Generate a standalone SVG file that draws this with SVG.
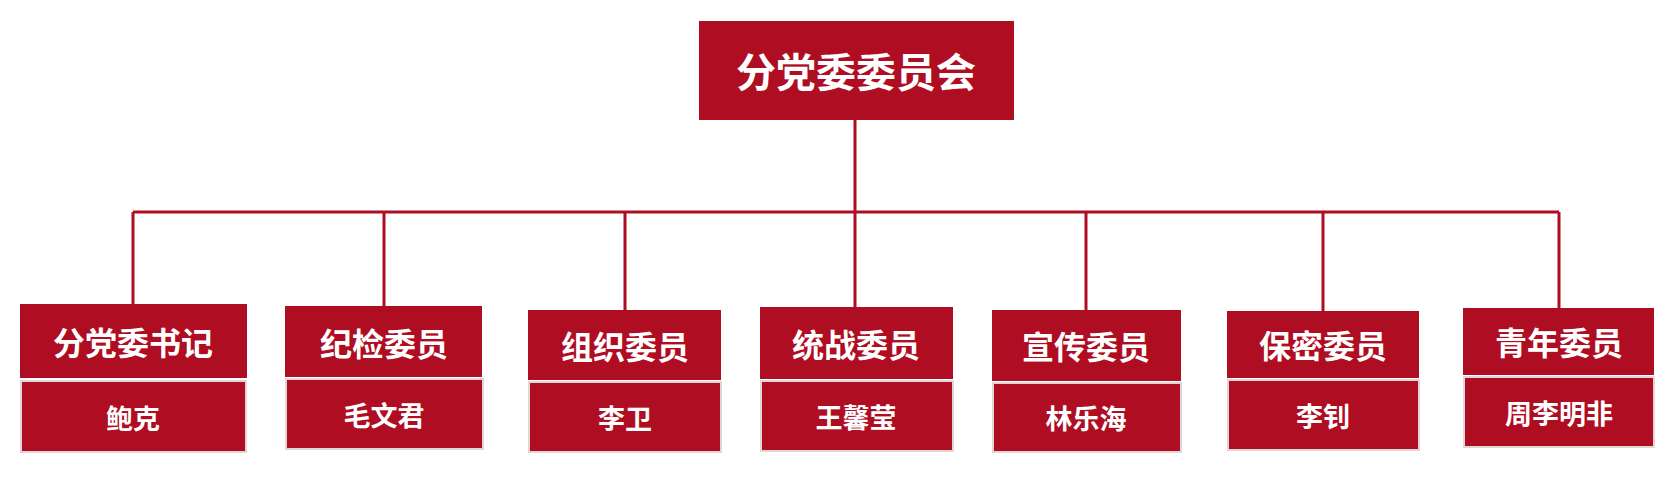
<svg xmlns="http://www.w3.org/2000/svg" width="1673" height="483" viewBox="0 0 1673 483">
<style>
.b{fill:#AF0D21}
.n{fill:#AF0D21;stroke:#e0d6d8;stroke-width:2}
text{fill:#fff;font-family:"Noto Sans CJK SC","Noto Sans",sans-serif;font-weight:bold;text-anchor:middle;dominant-baseline:central}
.t{font-size:32px}.s{font-size:27px}.h{font-size:40px}
.c{stroke:#AF0D21;stroke-width:3;fill:none}
</style>
<rect width="1673" height="483" fill="#fff"/>
<g id="connectors">
<path class="c" d="M855 112V212M133 212H1559M133 212V304M384 212V306M625 212V310M855 212V307M1086 212V310M1323 212V311M1559 212V308"/>
</g>
<g id="root"><rect class="b" x="699" y="21" width="315" height="99"/><text class="h" x="856" y="70">分党委委员会</text></g>
<g id="n1"><rect class="b" x="20" y="304" width="227" height="74"/><text class="t" x="133" y="341">分党委书记</text><rect class="n" x="21" y="381" width="225" height="71"/><text class="s" x="133" y="417">鲍克</text></g>
<g id="n2"><rect class="b" x="285" y="306" width="197" height="71"/><text class="t" x="384" y="342">纪检委员</text><rect class="n" x="286" y="379" width="197" height="70"/><text class="s" x="384" y="414">毛文君</text></g>
<g id="n3"><rect class="b" x="528" y="310" width="193" height="70"/><text class="t" x="625" y="345">组织委员</text><rect class="n" x="529" y="382" width="192" height="70"/><text class="s" x="625" y="417">李卫</text></g>
<g id="n4"><rect class="b" x="760" y="307" width="193" height="72"/><text class="t" x="856" y="343">统战委员</text><rect class="n" x="761" y="381" width="192" height="70"/><text class="s" x="856" y="416">王馨莹</text></g>
<g id="n5"><rect class="b" x="992" y="310" width="189" height="71"/><text class="t" x="1086" y="345">宣传委员</text><rect class="n" x="993" y="383" width="188" height="69"/><text class="s" x="1086" y="417">林乐海</text></g>
<g id="n6"><rect class="b" x="1227" y="311" width="192" height="67"/><text class="t" x="1323" y="344">保密委员</text><rect class="n" x="1228" y="380" width="191" height="70"/><text class="s" x="1323" y="415">李钊</text></g>
<g id="n7"><rect class="b" x="1463" y="308" width="191" height="67"/><text class="t" x="1559" y="341">青年委员</text><rect class="n" x="1464" y="377" width="190" height="70"/><text class="s" x="1559" y="412">周李明非</text></g>
</svg>
